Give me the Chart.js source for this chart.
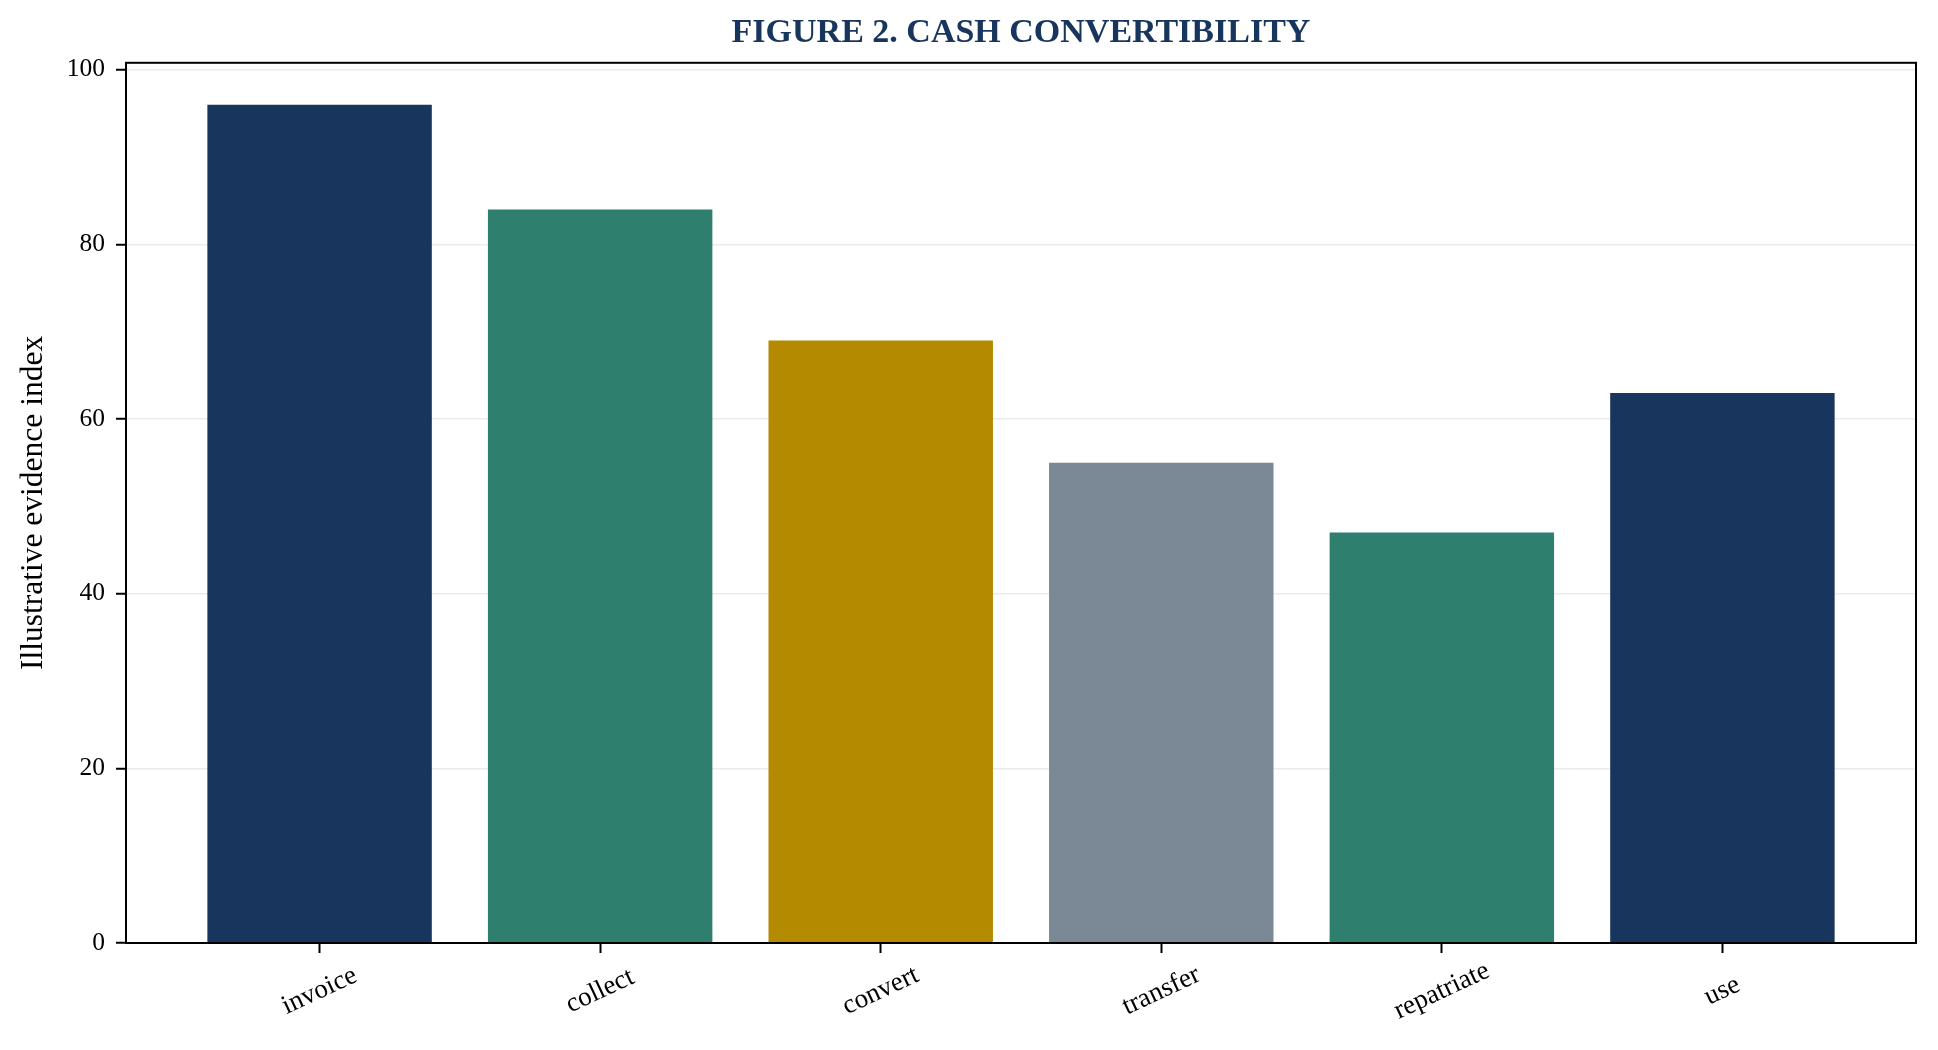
<!DOCTYPE html>
<html>
<head>
<meta charset="utf-8">
<title>Figure 2. Cash convertibility</title>
<script src="https://cdn.jsdelivr.net/npm/chart.js@4.4.1/dist/chart.umd.min.js"></script>
<style>
  html, body { margin: 0; padding: 0; background: #ffffff; }
  #wrap { width: 1938px; height: 1050px; }
</style>
</head>
<body>
<div id="wrap"><canvas id="cashChart" width="1938" height="1050"></canvas></div>
<script>
const stages = ['invoice', 'collect', 'convert', 'transfer', 'repatriate', 'use'];
const evidenceIndex = [96, 84, 69, 55, 47, 63];
const barColors = ['#18365d', '#2f7f6f', '#b38a00', '#7b8896', '#2f7f6f', '#18365d'];
const yTicks = [0, 20, 40, 60, 80, 100];

const serif = '"Liberation Serif", "Times New Roman", Times, serif';

// box round the plot area plus the slanted stage names under each tick
const framePlugin = {
  id: 'frame',
  afterDraw(chart) {
    const { ctx, chartArea: a, scales } = chart;
    ctx.save();
    ctx.strokeStyle = '#000000';
    ctx.lineWidth = 2;
    ctx.strokeRect(a.left, a.top, a.right - a.left, a.bottom - a.top);

    ctx.fillStyle = '#000000';
    ctx.font = '27px ' + serif;
    ctx.textAlign = 'center';
    ctx.textBaseline = 'middle';
    stages.forEach((name, i) => {
      const x = scales.x.getPixelForValue(i);
      ctx.save();
      ctx.translate(x, a.bottom + 48);
      ctx.rotate(-25 * Math.PI / 180);
      ctx.fillText(name, 0, 0);
      ctx.restore();
    });
    ctx.restore();
  }
};

const ctx = document.getElementById('cashChart').getContext('2d');
new Chart(ctx, {
  type: 'bar',
  data: {
    datasets: [{
      label: 'Illustrative evidence index',
      data: evidenceIndex.map((v, i) => ({ x: i, y: v })),
      backgroundColor: barColors,
      borderWidth: 0,
      barPercentage: 0.8,
      categoryPercentage: 1.0
    }]
  },
  options: {
    responsive: false,
    animation: false,
    devicePixelRatio: 1,
    layout: { padding: { left: 0, right: 22, top: 0, bottom: 0 } },
    plugins: {
      legend: { display: false },
      tooltip: { enabled: false },
      title: {
        display: true,
        fullSize: false,
        text: 'FIGURE 2. CASH CONVERTIBILITY',
        color: '#18365d',
        font: { family: serif, size: 34, weight: 'bold' },
        padding: { top: 13, bottom: 9 }
      }
    },
    scales: {
      x: {
        type: 'linear',
        min: -0.69,
        max: 5.69,
        offset: false,
        afterBuildTicks: (scale) => { scale.ticks = stages.map((_, i) => ({ value: i })); },
        afterFit: (scale) => { scale.height = 107; },
        ticks: { display: false },
        grid: {
          display: true,
          offset: false,
          drawOnChartArea: false,
          drawTicks: true,
          tickLength: 10,
          tickColor: '#000000',
          tickWidth: 2
        },
        border: { display: true, color: '#000000', width: 2 }
      },
      y: {
        type: 'linear',
        min: 0,
        max: 100.8,
        z: 1,
        afterBuildTicks: (scale) => { scale.ticks = yTicks.map(v => ({ value: v })); },
        afterFit: (scale) => { scale.width = 126; },
        ticks: {
          color: '#000000',
          padding: 11,
          font: { family: serif, size: 25.5 }
        },
        grid: {
          color: 'rgba(176, 176, 176, 0.25)',
          lineWidth: 1.5,
          drawTicks: true,
          tickLength: 10,
          tickColor: '#000000',
          tickWidth: 2
        },
        border: { display: true, color: '#000000', width: 2 },
        title: {
          display: true,
          text: 'Illustrative evidence index',
          color: '#000000',
          font: { family: serif, size: 31.5 },
          padding: { top: 15, bottom: 0 }
        }
      }
    }
  },
  plugins: [framePlugin]
});
</script>
</body>
</html>
